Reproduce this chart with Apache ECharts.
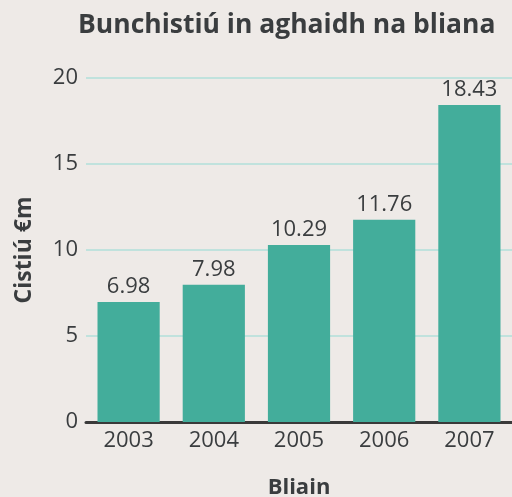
<!DOCTYPE html>
<html>
<head>
<meta charset="utf-8">
<script src="https://cdn.jsdelivr.net/npm/echarts@6/dist/echarts.min.js"></script>
<style>
  html, body { margin: 0; padding: 0; background: #eeeae7; }
  #chart { width: 512px; height: 497px; }
</style>
</head>
<body>
<div id="chart"></div>
<script>
const years = ['2003', '2004', '2005', '2006', '2007']
const funding = [6.98, 7.98, 10.29, 11.76, 18.43]
const yTicks = [0, 5, 10, 15, 20]

const textColor = '#3a3d3f'
const font = '"Open Sans", "Noto Sans", sans-serif'

const chart = echarts.init(document.getElementById('chart'))

chart.setOption({
  backgroundColor: '#eeeae7',
  textStyle: { fontFamily: font },
  title: {
    text: 'Bunchistiú in aghaidh na bliana',
    left: 73,
    top: 7,
    textStyle: { fontSize: 26.5, fontWeight: 'bold', color: textColor, fontFamily: font }
  },
  grid: { left: 86, right: 0, top: 78, bottom: 75, containLabel: false, outerBoundsMode: 'none' },
  xAxis: {
    type: 'category',
    data: years,
    name: 'Bliain',
    nameLocation: 'middle',
    nameGap: 55,
    nameTextStyle: { fontSize: 22, fontWeight: 'bold', color: textColor },
    axisLine: { lineStyle: { color: '#3a3a3a', width: 3 } },
    axisTick: { show: false },
    axisLabel: { fontSize: 22, color: textColor, margin: 8 }
  },
  yAxis: {
    type: 'value',
    min: yTicks[0],
    max: yTicks[yTicks.length - 1],
    interval: 5,
    name: 'Cistiú €m',
    nameLocation: 'middle',
    nameGap: 50,
    nameTextStyle: { fontSize: 23, fontWeight: 'bold', color: textColor },
    axisLine: { show: false },
    axisTick: { show: false },
    axisLabel: { fontSize: 22, color: textColor, margin: 8 },
    splitLine: { lineStyle: { color: '#c0e2dd', width: 2 } }
  },
  series: [
    {
      type: 'bar',
      data: funding,
      barWidth: '73%',
      itemStyle: { color: '#43ad9b' },
      label: {
        show: true,
        position: 'top',
        distance: 4,
        fontSize: 22,
        color: textColor,
        formatter: p => p.value.toFixed(2)
      }
    }
  ]
})
</script>
</body>
</html>
